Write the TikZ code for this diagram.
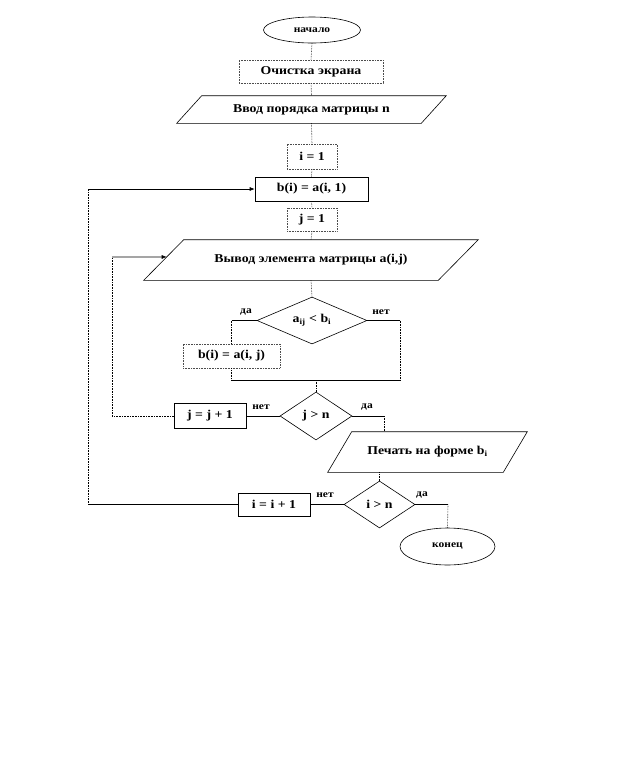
\documentclass[tikz,border=0pt]{standalone}
\usepackage{fontspec}
\setmainfont[FakeStretch=1.15]{Liberation Serif}
\usetikzlibrary{shapes.geometric,arrows.meta,calc}
\begin{document}
\begin{tikzpicture}[x=1pt,y=-1pt,line width=0.6pt,
  every node/.style={font=\bfseries\fontsize{12}{14}\selectfont,inner sep=0pt},
  box/.style={draw,rectangle},
  dbox/.style={draw=black!70,densely dotted,rectangle},
  ell/.style={draw,ellipse},
  dia/.style={draw,diamond,aspect=2.3},
  pbb/.style={rectangle},
  vline/.style={densely dotted},
  lab/.style={font=\bfseries\fontsize{10}{11}\selectfont},
  arr/.style={-{Latex[length=5pt,width=4pt]}}]
\useasboundingbox (0,0) rectangle (624,780);
\fill[white] (0,0) rectangle (624,780);

% nodes
\node[ell,minimum width=97,minimum height=26,font=\bfseries\fontsize{10}{12}\selectfont] (start) at (312,30) {начало};
\node[dbox,minimum width=144,minimum height=23] (cls) at (311,71.5) {Очистка экрана};
\node[pbb,minimum width=269,minimum height=27] (inp) at (311.5,109.5) {Ввод порядка матрицы n};
\draw ($(inp.north west)+(25,0)$) -- (inp.north east) -- ($(inp.south east)-(25,0)$) -- (inp.south west) -- cycle;
\node[dbox,minimum width=50,minimum height=25] (i1) at (312,156.5) {i = 1};
\node[box,minimum width=113,minimum height=24] (bi1) at (311.5,189) {b(i) = a(i,\ 1)};
\node[dbox,minimum width=50,minimum height=23] (j1) at (312,219.5) {j = 1};
\node[pbb,minimum width=334,minimum height=40] (out) at (311,260) {Вывод элемента матрицы a(i,j)};
\draw ($(out.north west)+(40,0)$) coordinate (outTL) -- (out.north east) -- ($(out.south east)-(40,0)$) -- (out.south west) coordinate (outBL) -- cycle;
\coordinate (outin) at ($(outBL)!0.575!(outTL)$);
\node[dia,minimum width=110,minimum height=47] (d1) at (312,320.5) {a\textsubscript{ij} < b\textsubscript{i}};
\node[dbox,minimum width=97,minimum height=24] (bij) at (231.5,356) {b(i) = a(i, j)};
\node[dia,minimum width=72,minimum height=48] (d2) at (316,416) {j > n};
\node[box,minimum width=72,minimum height=25] (jinc) at (210,416) {j = j + 1};
\node[pbb,minimum width=199,minimum height=40] (prn) at (427.5,452) {Печать на форме b\textsubscript{i}};
\draw ($(prn.north west)+(24,0)$) -- (prn.north east) -- ($(prn.south east)-(24,0)$) -- (prn.south west) -- cycle;
\node[dia,minimum width=71,minimum height=47] (d3) at (379.5,504.5) {i > n};
\node[box,minimum width=72,minimum height=23] (iinc) at (274,504.5) {i = i + 1};
\node[ell,minimum width=95,minimum height=37,font=\bfseries\fontsize{10}{12}\selectfont] (end) at (447.5,546.5) {конец};

% helper coordinates
\coordinate (m) at (316,380);
\coordinate (d1r) at (400,320.5);
\coordinate (d2r) at (384,416);
\coordinate (d3r) at (448,504.5);
\coordinate (jl) at (112,416);
\coordinate (jt) at (112,257);
\coordinate (il) at (88,504.5);
\coordinate (it) at (88,189);

% straight chain
\draw[vline] (start.south) -- (cls.north);
\draw[vline] (cls.south) -- (inp.north);
\draw[vline] (inp.south) -- (i1.north);
\draw[vline] (i1.south) -- (bi1.north);
\draw[vline] (bi1.south) -- (j1.north);
\draw[vline] (j1.south) -- (out.north);
\draw[vline] (out.south) -- (d1.north);

% first decision
\draw (d1.west) -- (d1.west -| bij.north);
\draw[vline] (d1.west -| bij.north) -- (bij.north);
\draw[vline] (bij.south) -- (bij.south |- m);
\draw (d1.east) -- (d1r);
\draw[vline] (d1r) -- (d1r |- m);
\draw (bij.south |- m) -- (d1r |- m);
\draw[vline] (m) -- (d2.north);
\node[lab] (l1) at (246,312) {да};
\node[lab] (l2) at (381,312) {нет};

% second decision
\draw (d2.west) -- (jinc.east);
\draw[vline] (jinc.west) -- (jl) -- (jt);
\draw[arr] (jt) -- (outin);
\draw (d2.east) -- (d2r);
\draw[vline] (d2r) -- (d2r |- prn.north);
\node[lab] (l3) at (261,407) {нет};
\node[lab] (l4) at (367,407) {да};

% print and third decision
\draw[vline] (d3.north |- prn.south) -- (d3.north);
\draw (d3.west) -- (iinc.east);
\draw (iinc.west) -- (il);
\draw[vline] (il) -- (it);
\draw[arr] (it) -- (bi1.west);
\draw (d3.east) -- (d3r);
\draw[vline] (d3r) -- (end.north);
\node[lab] (l5) at (325,495) {нет};
\node[lab] (l6) at (422,495) {да};
\end{tikzpicture}
\end{document}
